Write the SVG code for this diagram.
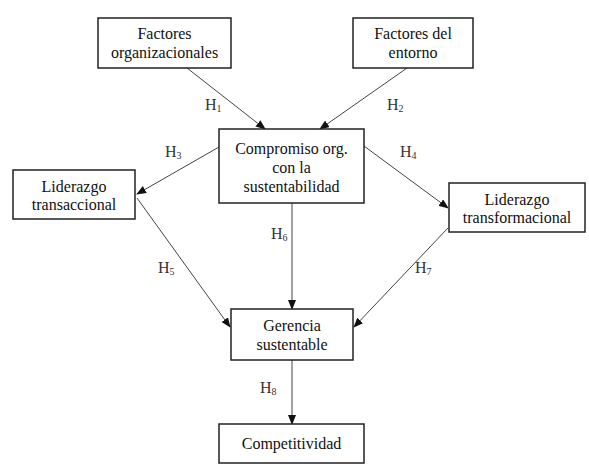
<svg xmlns="http://www.w3.org/2000/svg" width="589" height="468" viewBox="0 0 589 468">
<defs>
<marker id="ah" markerWidth="10" markerHeight="8" refX="9" refY="4" orient="auto" markerUnits="userSpaceOnUse">
<path d="M0,0 L10,4 L0,8 Z" fill="#111"/>
</marker>
</defs>
<style>
.box{fill:#fff;stroke:#222;stroke-width:1.5}
.t{font-family:"Liberation Serif","Times New Roman",serif;font-size:16px;fill:#111;text-anchor:middle}
.h{font-family:"Liberation Serif","Times New Roman",serif;font-size:16px;fill:#333}
.s{font-size:10px}
.c{stroke:#444;stroke-width:1;fill:none;marker-end:url(#ah)}
</style>
<rect width="589" height="468" fill="#fff"/>
<g id="connectors">
<line class="c" x1="187" y1="68" x2="265" y2="129"/>
<line class="c" x1="407" y1="68" x2="320" y2="129"/>
<line class="c" x1="219" y1="147" x2="137" y2="194"/>
<line class="c" x1="364" y1="146" x2="448" y2="208"/>
<line class="c" x1="137" y1="198" x2="230" y2="327"/>
<line class="c" x1="448" y1="228" x2="354" y2="327"/>
<line class="c" x1="292" y1="203" x2="292" y2="309"/>
<line class="c" x1="292" y1="360" x2="292" y2="424"/>
<text class="h" x="205" y="110">H<tspan class="s" dy="2">1</tspan></text>
<text class="h" x="387" y="110">H<tspan class="s" dy="2">2</tspan></text>
<text class="h" x="165" y="157">H<tspan class="s" dy="2">3</tspan></text>
<text class="h" x="400" y="157">H<tspan class="s" dy="2">4</tspan></text>
<text class="h" x="158" y="273">H<tspan class="s" dy="2">5</tspan></text>
<text class="h" x="271" y="239">H<tspan class="s" dy="2">6</tspan></text>
<text class="h" x="415" y="273">H<tspan class="s" dy="2">7</tspan></text>
<text class="h" x="260" y="393">H<tspan class="s" dy="2">8</tspan></text>
</g>
<g id="n-org">
<rect class="box" x="98" y="18" width="133" height="50"/>
<text class="t" x="164.5" y="39">Factores</text>
<text class="t" x="164.5" y="58">organizacionales</text>
</g>
<g id="n-entorno">
<rect class="box" x="353" y="18" width="120" height="50"/>
<text class="t" x="413" y="39">Factores del</text>
<text class="t" x="413" y="58">entorno</text>
</g>
<g id="n-compromiso">
<rect class="box" x="219" y="129" width="145" height="74"/>
<text class="t" x="291.5" y="154">Compromiso org.</text>
<text class="t" x="291.5" y="173">con la</text>
<text class="t" x="291.5" y="192">sustentabilidad</text>
</g>
<g id="n-transaccional">
<rect class="box" x="13" y="170" width="122" height="49"/>
<text class="t" x="74" y="192">Liderazgo</text>
<text class="t" x="74" y="210">transaccional</text>
</g>
<g id="n-transformacional">
<rect class="box" x="449" y="183" width="136" height="49"/>
<text class="t" x="517" y="205">Liderazgo</text>
<text class="t" x="517" y="223">transformacional</text>
</g>
<g id="n-gerencia">
<rect class="box" x="231" y="309" width="122" height="51"/>
<text class="t" x="292" y="331">Gerencia</text>
<text class="t" x="292" y="350">sustentable</text>
</g>
<g id="n-competitividad">
<rect class="box" x="219" y="424" width="145" height="39"/>
<text class="t" x="291.5" y="449">Competitividad</text>
</g>
</svg>
